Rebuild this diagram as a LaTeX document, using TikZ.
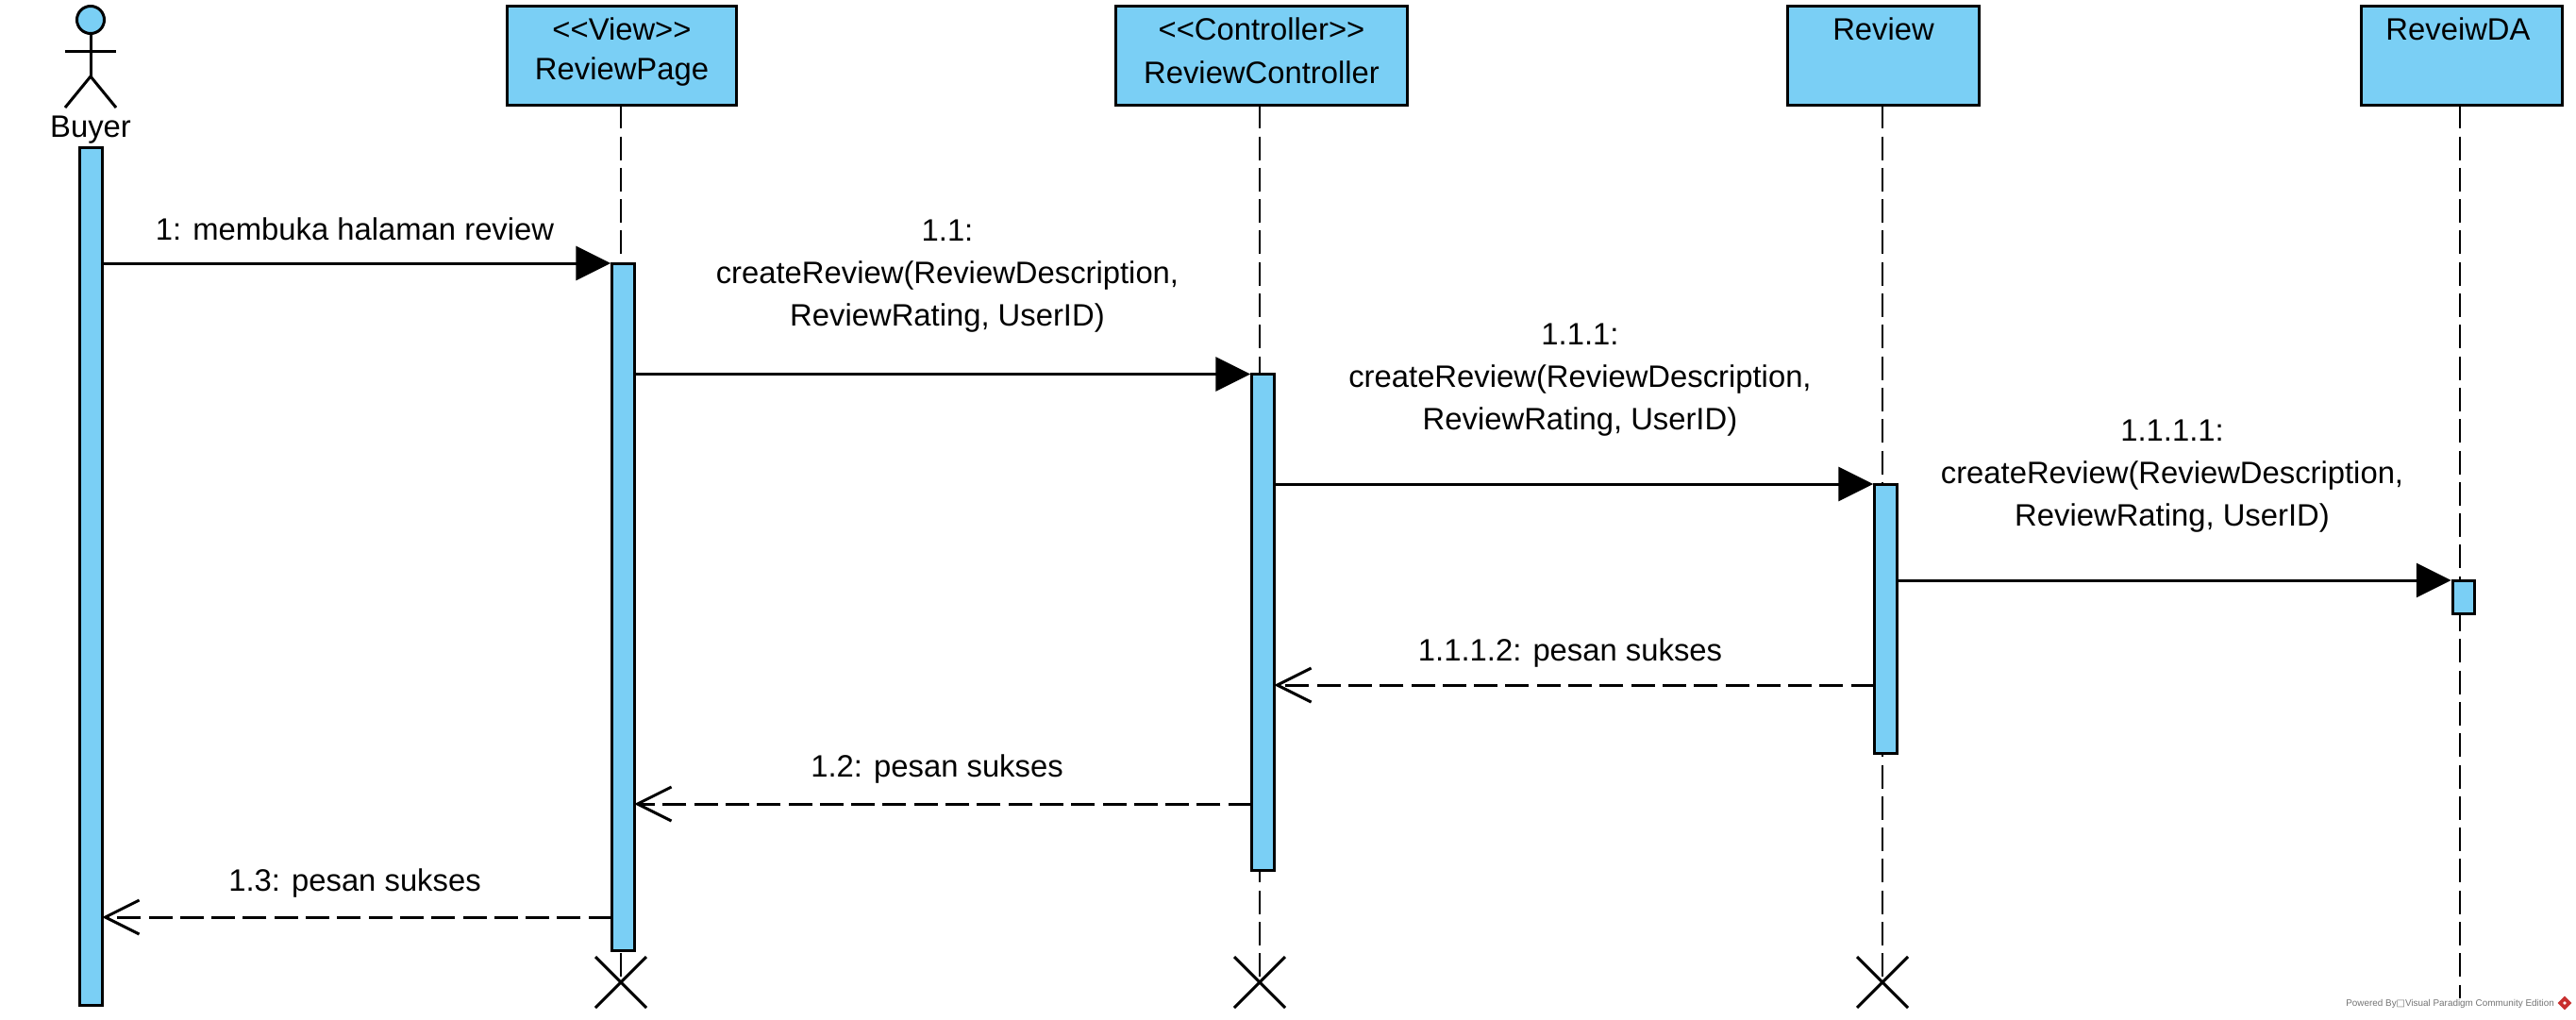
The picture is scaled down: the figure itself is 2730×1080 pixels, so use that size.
\documentclass[tikz,border=0pt]{standalone}
\usepackage{fontspec}
\setmainfont{Liberation Sans}
\newfontfamily\symbfont{DejaVu Sans}
\usetikzlibrary{arrows.meta,shapes.geometric,shapes.misc}
\definecolor{vpblue}{HTML}{7ACFF5}
\definecolor{vpred}{HTML}{C8302F}
\tikzset{
    lbl/.style={font=\fontsize{32.8}{45}\selectfont, align=center, inner sep=0pt},
    lifebox/.style={draw, fill=vpblue, line width=3pt, minimum height=104.5pt, outer sep=0pt},
    bar/.style={draw, fill=vpblue, line width=3pt, minimum width=23.5pt, anchor=north, outer sep=0pt},
    lifeline/.style={line width=2.8pt, dash pattern=on 25pt off 8.3pt},
    endmark/.style={draw, cross out, line width=3pt, minimum size=54pt, inner sep=0pt, outer sep=0pt},
    callmsg/.style={line width=3pt, shorten >=1.5pt, -{Triangle[length=37pt,width=36pt]}},
    retmsg/.style={line width=3pt, dash pattern=on 25pt off 8.3pt, -{Straight Barb[length=36pt,width=36pt,line width=3pt]}},
    stick/.style={line width=3pt}
}
\begin{document}
\begin{tikzpicture}[x=1pt,y=-1pt]
    \useasboundingbox (0,0) rectangle (2730,1080);

    % actor
    \node[circle, draw, fill=vpblue, line width=3pt, minimum size=29pt, inner sep=0pt, outer sep=0pt] (head) at (96,21) {};
    \coordinate (hip) at (96,81);
    \coordinate (armL) at (69,54);
    \coordinate (armR) at (123,54);
    \coordinate (legL) at (69,114);
    \coordinate (legR) at (123,114);
    \draw[stick] (head.south) -- (hip);
    \draw[stick] (armL) -- (armR);
    \draw[stick] (legL) -- (hip) -- (legR);
    \node[lbl] (buyer) at (96,138) {Buyer};

    % lifelines
    \coordinate (endDa) at (2607,1058);
    \foreach \n/\x in {View/658,Ctrl/1335,Rev/1995}
        \node[endmark] (end\n) at (\x,1041) {};
    \foreach \n/\cx/\w in {View/659/243,Ctrl/1337/309,Rev/1996/203,Da/2609/213} {
        \node[lifebox, minimum width=\w pt] (box\n) at (\cx,59) {};
        \draw[lifeline] (end\n |- box\n.south) -- (end\n.center);
    }
    \node[lbl] (nameView) at (659,76.5) {ReviewPage};
    \node[lbl] (nameCtrl) at (1337,76.5) {ReviewController};
    \node[lbl] (nameRev) at (1996,31) {Review};
    \node[lbl] (nameDa) at (2605,31) {ReveiwDA};
    \node[lbl] (stereoView) at (659,31) {<{}<View>{}>};
    \node[lbl] (stereoCtrl) at (1337,31) {<{}<Controller>{}>};

    % activations
    \node[bar, minimum height=909pt] (barBuyer) at (96.5,156) {};
    \node[bar, minimum height=728.5pt] (barView) at (660.5,279) {};
    \node[bar, minimum height=525.5pt] (barCtrl) at (1338.5,396.5) {};
    \node[bar, minimum height=285pt] (barRev) at (1998.5,513) {};
    \node[bar, minimum height=35.5pt] (barDa) at (2611,615) {};

    % messages
    \draw[callmsg] (barBuyer.east |- barView.north) -- (barView.north west);
    \draw[callmsg] (barView.east |- barCtrl.north) -- (barCtrl.north west);
    \draw[callmsg] (barCtrl.east |- barRev.north) -- (barRev.north west);
    \draw[callmsg] (barRev.east |- barDa.north) -- (barDa.north west);
    \foreach \n/\y in {retA/726,retB/852,retC/972}
        \coordinate (\n) at (0,\y);
    \draw[retmsg] (barRev.west |- retA) -- (barCtrl.east |- retA);
    \draw[retmsg] (barCtrl.west |- retB) -- (barView.east |- retB);
    \draw[retmsg] (barView.west |- retC) -- (barBuyer.east |- retC);

    % message labels
    \node[lbl] (lblOpen) at (376,243) {1: membuka halaman review};
    \node[lbl] (lblCtrl) at (1004,292.5) {1.1:\\createReview(ReviewDescription,\\ReviewRating, UserID)};
    \node[lbl] (lblRev) at (1674.5,402.5) {1.1.1:\\createReview(ReviewDescription,\\ReviewRating, UserID)};
    \node[lbl] (lblDa) at (2302,504.5) {1.1.1.1:\\createReview(ReviewDescription,\\ReviewRating, UserID)};
    \node[lbl] (lblRetA) at (1664,692.5) {1.1.1.2: pesan sukses};
    \node[lbl] (lblRetB) at (993,815.5) {1.2: pesan sukses};
    \node[lbl] (lblRetC) at (376,936.5) {1.3: pesan sukses};

    % watermark
    \node[font=\fontsize{9.9}{12}\selectfont, text=black!55, inner sep=0pt, anchor=east] (wmText) at (2707,1064) {Powered By{\symbfont □}Visual Paradigm Community Edition};
    \node[diamond, fill=vpred, minimum size=15pt, inner sep=0pt] (wmIcon) at (2718,1063) {};
    \node[diamond, fill=white, minimum size=4pt, inner sep=0pt] (wmCore) at (wmIcon.center) {};
\end{tikzpicture}
\end{document}
